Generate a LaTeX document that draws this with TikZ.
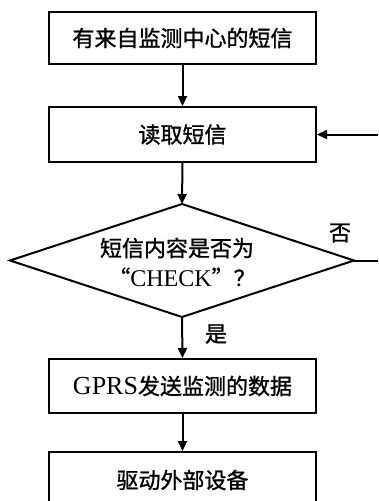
\documentclass[tikz,border=0pt]{standalone}
\usepackage{fontspec}
\setmainfont{Liberation Serif}
\newfontfamily\cjk{Noto Sans CJK SC}[FakeBold=1.2]
\usetikzlibrary{arrows.meta,shapes.geometric}
\tikzset{
  boxnode/.style={draw,line width=2pt,minimum width=267pt,inner sep=0pt,font=\fontsize{22}{26}\selectfont},
  flow/.style={line width=2pt,-{Triangle[length=10pt,width=9pt]}},
  plainline/.style={line width=2pt},
  lbl/.style={font=\cjk\fontsize{22}{26}\selectfont,inner sep=0pt}
}
\begin{document}
\begin{tikzpicture}[x=1pt,y=-1pt]
\useasboundingbox (0,0) rectangle (378,501);
\clip (0,0) rectangle (378,501);
\node[boxnode,minimum height=52pt] (b1) at (182.5,38) {\cjk 有来自监测中心的短信};
\node[boxnode,minimum height=55pt] (b2) at (182.5,134.5) {\cjk 读取短信};
\draw[line width=2pt] (182,204) -- (10,260.5) -- (182,317) -- (354,260.5) -- cycle;
\node[inner sep=0pt] (d) at (182,260.5) {};
\node[lbl] (dt1) at (177,248) {短信内容是否为};
\node[inner sep=0pt,font=\fontsize{22}{26}\selectfont] (dt2) at (182,277) {{\cjk “}{\fontsize{24}{26}\selectfont CHECK}{\cjk ”？}};
\coordinate (dtop) at (182,204);
\coordinate (dbot) at (182,317);
\coordinate (dright) at (354,260.5);
\node[boxnode,minimum height=54pt] (b3) at (182.5,386) {{\fontsize{26}{26}\selectfont GPRS}{\cjk 发送监测的数据}};
\node[boxnode,minimum height=70pt] (b4) at (182.5,487) {};
\node[lbl] (b4t) at (182.5,480) {驱动外部设备};
\coordinate (rin) at (380,134.5);
\coordinate (rout) at (380,260.5);
\node[lbl] (no) at (340,233) {否};
\node[lbl] (yes) at (216,334) {是};
\draw[flow] (b1.south) -- (b2.north);
\draw[flow] (b2.south) -- (dtop);
\draw[flow] (dbot) -- (b3.north);
\draw[flow] (b3.south) -- (b4.north);
\draw[flow] (rin) -- (b2.east);
\draw[plainline] (dright) -- (rout);
\end{tikzpicture}
\end{document}
